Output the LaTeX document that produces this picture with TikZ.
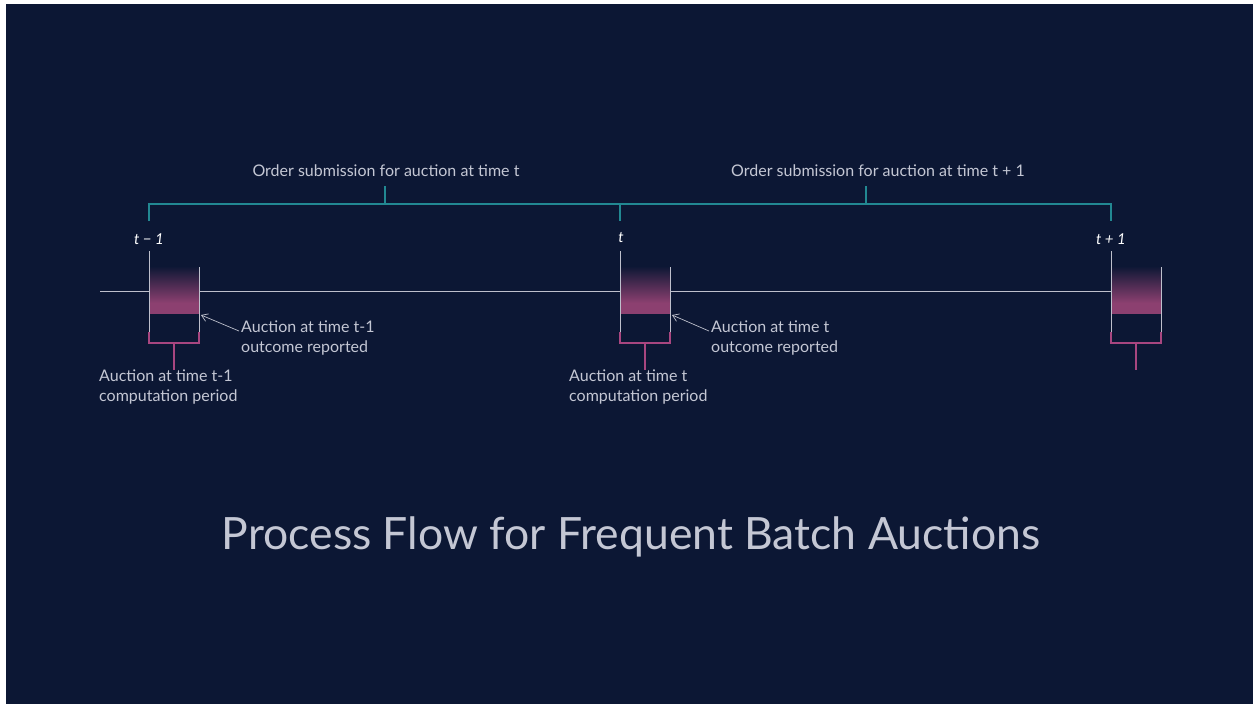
\documentclass[tikz,border=0pt]{standalone}
\usepackage{fontspec}
\setmainfont{Lato}
\usetikzlibrary{arrows.meta}
\definecolor{bgc}{RGB}{12,23,52}
\definecolor{tealc}{RGB}{34,136,146}
\definecolor{pinkc}{RGB}{140,64,112}
\definecolor{pinkl}{RGB}{168,70,128}
\definecolor{grayl}{RGB}{190,192,204}
\definecolor{txtc}{RGB}{196,199,212}
\begin{document}
\begin{tikzpicture}[x=1pt,y=-1pt,
  lbl/.style={text=txtc,font=\fontsize{16}{20}\selectfont,inner sep=0pt},
  lblL/.style={lbl,anchor=north west,align=left},
  tlab/.style={text=white,font=\fontsize{15}{18}\selectfont\itshape,inner sep=0pt},
  brk/.style={draw=tealc,line width=1.4pt},
  tline/.style={draw=grayl,line width=1pt},
  pk/.style={draw=pinkl,line width=1.2pt},
  arr/.style={draw=grayl,line width=0.7pt,-{Straight Barb[length=6pt,width=8pt]}}]
\useasboundingbox (0,0) rectangle (1253,704);
\fill[white] (0,0) rectangle (1253,704);
\fill[bgc] (6,4) rectangle (1253,704);
% bracket
\coordinate (bl) at (149,204); \coordinate (bm) at (620,204); \coordinate (br) at (1111,204);
\coordinate (blt) at (149,221); \coordinate (bmt) at (620,221); \coordinate (brt) at (1111,221);
\coordinate (u1) at (385,204); \coordinate (u2) at (866,204);
\coordinate (u1t) at (385,186); \coordinate (u2t) at (866,186);
\node[lbl] (o1) at (386,171) {Order submission for auction at time t};
\node[lbl] (o2) at (878,171) {Order submission for auction at time t + 1};
\draw[brk] (blt) -- (bl) -- (br) -- (brt);
\draw[brk] (bm) -- (bmt);
\draw[brk] (u1) -- (u1t);
\draw[brk] (u2) -- (u2t);
% time labels
\node[tlab] (t1) at (149,239) {t − 1};
\node[tlab] (t2) at (621,238) {t};
\node[tlab] (t3) at (1111,239) {t + 1};
% boxes
\foreach \n/\x in {a/149,b/620,c/1111}{
  \shade[top color=bgc,bottom color=pinkc] (\x,266) rectangle (\x+50,303);
  \fill[pinkc] (\x,302.5) rectangle (\x+50,314);
  \draw[tline] (\x,251) -- (\x,332);
  \draw[tline] (\x+50,267) -- (\x+50,332);
  \draw[pk] (\x,332) -- (\x,343) -- (\x+50,343) -- (\x+50,332);
  \draw[pk] (\x+25,343) -- (\x+25,370);
  \coordinate (\n top) at (\x,291);
  \coordinate (\n out) at (\x+50,291);
  \coordinate (\n corner) at (\x+52,315);
}
% timeline
\coordinate (start) at (100,291);
\draw[tline] (start) -- (atop);
\draw[tline] (aout) -- (btop);
\draw[tline] (bout) -- (ctop);
% outcome labels
\node[lblL] (r1) at (241,321) {Auction at time t-1\\outcome reported};
\node[lblL] (r2) at (711,321) {Auction at time t\\outcome reported};
\draw[arr] (r1.north west) ++(-2,10) -- (acorner);
\draw[arr] (r2.north west) ++(-2,10) -- (bcorner);
% computation labels
\node[lblL] (c1) at (99,370) {Auction at time t-1\\computation period};
\node[lblL] (c2) at (569,370) {Auction at time t\\computation period};
% title
\node[text=txtc,font=\fontsize{44.5}{50}\selectfont,inner sep=0pt] (title) at (631,537) {Process Flow for Frequent Batch Auctions};
\end{tikzpicture}
\end{document}
